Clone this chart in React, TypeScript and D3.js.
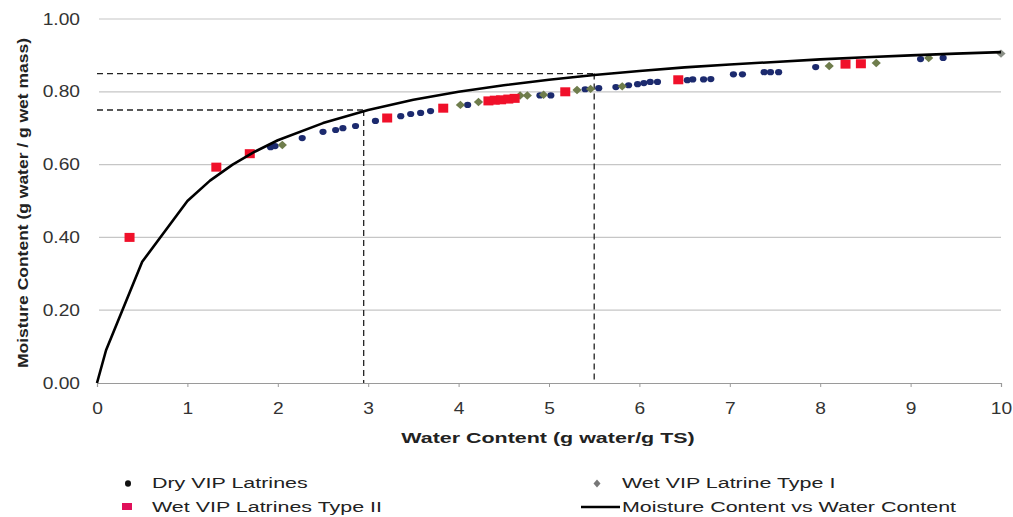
import React, { useEffect, useRef } from "react";
import * as d3 from "d3";

// x tick labels / y tick labels
const xTicks = [0, 1, 2, 3, 4, 5, 6, 7, 8, 9, 10];
const yTicks = [0, 0.2, 0.4, 0.6, 0.8, 1.0];

// Moisture Content vs Water Content (line)
const lineX = [0, 0.1, 0.5, 1, 1.25, 1.5, 1.75, 2, 2.5, 3, 3.5, 4, 4.5, 5, 5.5, 6, 6.5, 7, 7.5, 8, 8.5, 9, 9.5, 10];
const lineY = [0, 0.09, 0.333, 0.5, 0.556, 0.6, 0.636, 0.667, 0.714, 0.75, 0.778, 0.8, 0.818, 0.833, 0.846, 0.857, 0.867, 0.875, 0.882, 0.889, 0.895, 0.9, 0.905, 0.909];

// Dry VIP Latrines
const dryX = [1.92, 1.97, 2.27, 2.5, 2.64, 2.72, 2.86, 3.08, 3.36, 3.47, 3.58, 3.69, 4.1, 4.9, 5.02, 5.4, 5.55, 5.74, 5.88, 5.98, 6.05, 6.12, 6.2, 6.53, 6.59, 6.71, 6.79, 7.04, 7.14, 7.38, 7.45, 7.54, 7.95, 9.11, 9.36];
const dryY = [0.648, 0.651, 0.673, 0.69, 0.695, 0.7, 0.706, 0.72, 0.733, 0.739, 0.742, 0.747, 0.764, 0.79, 0.79, 0.807, 0.81, 0.813, 0.818, 0.821, 0.824, 0.827, 0.827, 0.832, 0.834, 0.834, 0.835, 0.848, 0.848, 0.854, 0.854, 0.854, 0.868, 0.89, 0.893];

// Wet VIP Latrine Type I
const wet1X = [2.05, 4.02, 4.22, 4.68, 4.76, 4.94, 5.31, 5.46, 5.81, 8.1, 8.62, 9.2, 10.0];
const wet1Y = [0.654, 0.764, 0.772, 0.79, 0.79, 0.792, 0.805, 0.808, 0.815, 0.871, 0.879, 0.893, 0.905];

// Wet VIP Latrines Type II
const wet2X = [0.36, 1.32, 1.69, 3.21, 3.83, 4.33, 4.4, 4.47, 4.55, 4.62, 5.18, 6.43, 8.28, 8.45];
const wet2Y = [0.4, 0.593, 0.63, 0.728, 0.755, 0.775, 0.777, 0.778, 0.78, 0.782, 0.8, 0.833, 0.876, 0.877];

// reference lines
const refX = [2.95, 5.5];
const refY = [0.75, 0.85];

const W = 1013;
const H = 517;
const NAVY = "#1c2a6e";
const OLIVE = "#6f7d4c";
const RED = "#f0102a";
const FONT = "'Liberation Sans', Arial, sans-serif";
const TXT_SX = 1.43; // the picture's text is stretched sideways
const TICK_SX = 1.2;

const diamondPath = (w: number, h: number) => `M0,${-h}L${w},0L0,${h}L${-w},0Z`;

export default function App() {
  const ref = useRef<SVGSVGElement>(null);

  useEffect(() => {
    if (!ref.current) return;
    const svg = d3.select(ref.current);
    svg.selectAll("*").remove();

    const x = d3.scaleLinear().domain([0, 10]).range([97, 1001]);
    const y = d3.scaleLinear().domain([0, 1]).range([383, 19]);

    // gridlines
    svg.append("g")
      .selectAll("line")
      .data(yTicks.filter((d) => d > 0))
      .join("line")
      .attr("x1", x(0) + 2)
      .attr("x2", x(10))
      .attr("y1", (d) => y(d))
      .attr("y2", (d) => y(d))
      .attr("stroke", "#c6c6c6")
      .attr("stroke-width", 1.2);

    // y axis labels
    const yAxis = svg.append("g")
      .attr("transform", `translate(${x(0) - 17},0)`)
      .call(d3.axisLeft(y).tickValues(yTicks).tickFormat(d3.format(".2f")).tickSize(0).tickPadding(0));
    yAxis.select(".domain").remove();
    yAxis.selectAll("text")
      .attr("font-family", FONT)
      .attr("font-size", 16)
      .attr("fill", "#333")
      .attr("x", 0)
      .attr("transform", `scale(${TICK_SX},1)`);

    // x axis
    const xAxis = svg.append("g")
      .attr("transform", `translate(0,${y(0)})`)
      .call(d3.axisBottom(x).tickValues(xTicks).tickFormat(d3.format("d")).tickSize(4).tickPadding(16));
    xAxis.select(".domain").attr("stroke", "#9a9a9a").attr("stroke-width", 1.2);
    xAxis.selectAll(".tick line").attr("stroke", "#9a9a9a");
    xAxis.selectAll("text")
      .attr("font-family", FONT)
      .attr("font-size", 16)
      .attr("fill", "#333")
      .attr("transform", `scale(${TICK_SX},1)`);

    // dashed reference lines
    const dash = svg.append("g")
      .attr("stroke", "#222")
      .attr("stroke-width", 1.3)
      .attr("stroke-dasharray", "6,4")
      .attr("fill", "none");
    refX.forEach((vx, i) => {
      dash.append("line")
        .attr("x1", x(0)).attr("x2", x(vx))
        .attr("y1", y(refY[i])).attr("y2", y(refY[i]));
      dash.append("line")
        .attr("x1", x(vx)).attr("x2", x(vx))
        .attr("y1", y(refY[i])).attr("y2", y(0));
    });

    // points
    const pts = (xs: number[], ys: number[]) => xs.map((v, i) => [v, ys[i]] as [number, number]);

    svg.append("g")
      .selectAll("ellipse")
      .data(pts(dryX, dryY))
      .join("ellipse")
      .attr("cx", (d) => x(d[0]))
      .attr("cy", (d) => y(d[1]))
      .attr("rx", 3.6)
      .attr("ry", 3.1)
      .attr("fill", NAVY);

    svg.append("g")
      .selectAll("path")
      .data(pts(wet1X, wet1Y))
      .join("path")
      .attr("d", diamondPath(4.6, 4.2))
      .attr("transform", (d) => `translate(${x(d[0])},${y(d[1])})`)
      .attr("fill", (d) => (d[0] >= 10 ? "#8a8f86" : OLIVE));

    svg.append("g")
      .selectAll("rect")
      .data(pts(wet2X, wet2Y))
      .join("rect")
      .attr("x", (d) => x(d[0]) - 5)
      .attr("y", (d) => y(d[1]) - 4.5)
      .attr("width", 10)
      .attr("height", 9)
      .attr("fill", RED);

    // line
    const line = d3.line<number>()
      .x((d) => x(d))
      .y((_, i) => y(lineY[i]));
    svg.append("path")
      .datum(lineX)
      .attr("d", line)
      .attr("fill", "none")
      .attr("stroke", "#000")
      .attr("stroke-width", 2.6)
      .attr("stroke-linejoin", "round");

    // stretched text helper
    const label = (
      g: d3.Selection<any, unknown, null, undefined>,
      tx: number,
      ty: number,
      s: string,
      anchor = "start",
      bold = false
    ) =>
      g.append("text")
        .attr("transform", `translate(${tx},${ty}) scale(${TXT_SX},1)`)
        .attr("text-anchor", anchor)
        .attr("font-family", FONT)
        .attr("font-size", 15)
        .attr("font-weight", bold ? "bold" : "normal")
        .attr("fill", "#222")
        .text(s);

    // axis titles
    label(svg, 548, 443, "Water Content (g water/g TS)", "middle", true);

    svg.append("text")
      .attr("transform", `translate(28,203) rotate(-90)`)
      .attr("text-anchor", "middle")
      .attr("font-family", FONT)
      .attr("font-size", 15.5)
      .attr("font-weight", "bold")
      .attr("fill", "#222")
      .attr("textLength", 330)
      .attr("lengthAdjust", "spacingAndGlyphs")
      .text("Moisture Content (g water / g wet mass)");

    // legend
    const leg = svg.append("g");
    leg.append("ellipse").attr("cx", 128).attr("cy", 483.5).attr("rx", 3).attr("ry", 3.3).attr("fill", "#111");
    label(leg, 152, 488, "Dry VIP Latrines");
    leg.append("rect").attr("x", 122).attr("y", 503).attr("width", 10).attr("height", 7).attr("fill", "#e0105a");
    label(leg, 152, 512, "Wet VIP Latrines Type II");
    leg.append("path").attr("d", diamondPath(3.5, 4)).attr("transform", "translate(597,483.5)").attr("fill", "#777");
    label(leg, 622, 488, "Wet VIP Latrine Type I");
    leg.append("line").attr("x1", 581).attr("x2", 620).attr("y1", 507).attr("y2", 507).attr("stroke", "#000").attr("stroke-width", 2.6);
    label(leg, 622, 512, "Moisture Content vs Water Content");
  }, []);

  return (
    <svg
      ref={ref}
      width={W}
      height={H}
      style={{ position: "absolute", left: 0, top: 0, background: "#fff" }}
    />
  );
}
